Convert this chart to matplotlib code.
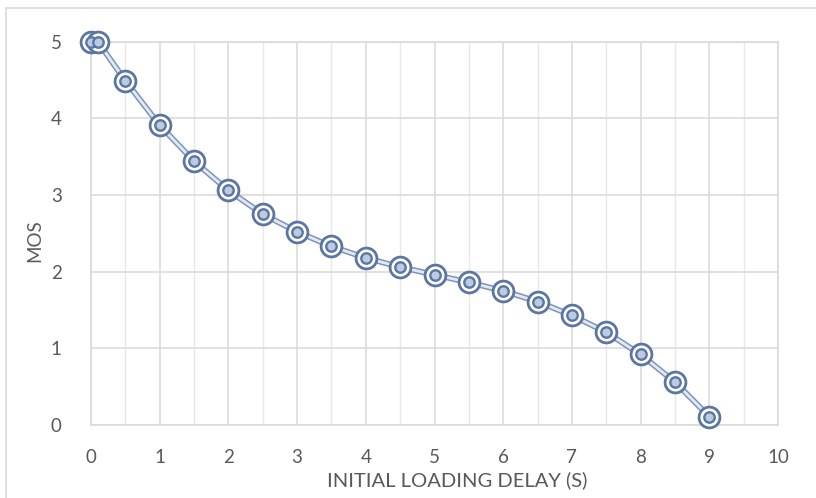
import matplotlib
matplotlib.use('Agg')
import matplotlib.pyplot as plt
from matplotlib.patches import Rectangle

# initial loading delay (s) vs MOS
delay = [0, 0.1, 0.5, 1, 1.5, 2, 2.5, 3, 3.5, 4, 4.5, 5, 5.5, 6, 6.5, 7, 7.5, 8, 8.5, 9]
mos = [5.0, 5.0, 4.49, 3.91, 3.44, 3.06, 2.75, 2.52, 2.33, 2.18, 2.06, 1.96,
       1.86, 1.75, 1.61, 1.43, 1.21, 0.92, 0.56, 0.11]
xticks = list(range(0, 11))
yticks = list(range(0, 6))

plt.rcParams['font.family'] = ['Lato', 'DejaVu Sans']

fig = plt.figure(figsize=(8.16, 4.98), dpi=100)
# outer chart border
fig.patches.append(Rectangle((6 / 816, -0.1), 1.2, 1.1 - 8 / 498,
                             transform=fig.transFigure, fill=False,
                             edgecolor='#d9d9d9', linewidth=1.2))

ax = fig.add_axes([91 / 816, 1 - 425 / 498, (778 - 91) / 816, (425 - 41.7) / 498])
ax.set_xlim(0, 10)
ax.set_ylim(0, 5)
ax.set_xticks(xticks)
ax.set_yticks(yticks)
ax.set_xticks([i + 0.5 for i in range(10)], minor=True)
ax.grid(True, which='major', color='#d9d9d9', linewidth=1.1)
ax.grid(True, which='minor', axis='x', color='#e8e8e8', linewidth=1.0)
ax.set_axisbelow(True)
for s in ax.spines.values():
    s.set_color('#d9d9d9')
    s.set_linewidth(1.1)
ax.tick_params(which='both', length=0, labelsize=13.5, labelcolor='#595959')
ax.tick_params(axis='x', pad=17)
ax.tick_params(axis='y', pad=21)

# double line
ax.plot(delay, mos, color='#7d94bb', linewidth=4.2, clip_on=False, zorder=3)
ax.plot(delay, mos, color='#e2e9f3', linewidth=2.0, clip_on=False, zorder=4)
# double circle markers
ax.plot(delay, mos, linestyle='none', marker='o', markersize=15,
        markerfacecolor='white', markeredgecolor='#5b76a3', markeredgewidth=2.0,
        clip_on=False, zorder=5)
ax.plot(delay, mos, linestyle='none', marker='o', markersize=7.5,
        markerfacecolor='#bccbe2', markeredgecolor='#5b76a3', markeredgewidth=1.7,
        clip_on=False, zorder=6)

ax.set_xlabel('INITIAL LOADING DELAY (S)', fontsize=14.5, color='#595959')
ax.xaxis.set_label_coords(0.533, -0.12)
ax.set_ylabel('MOS', fontsize=13.5, color='#595959')
ax.yaxis.set_label_coords(-0.07, 0.48)

fig.savefig('out.png', dpi=100)
